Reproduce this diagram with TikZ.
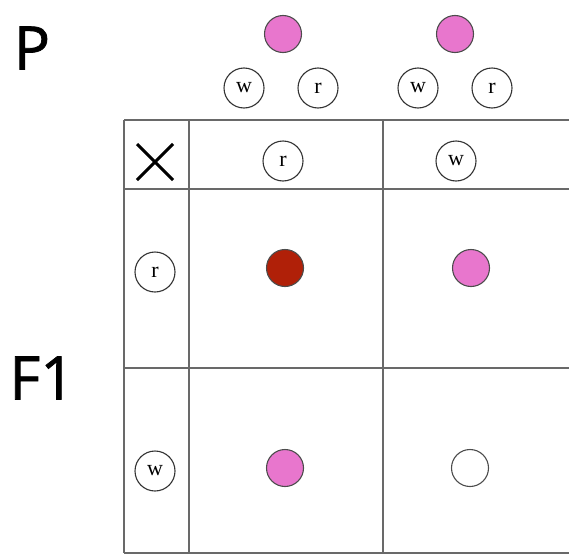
\documentclass[tikz,border=0pt]{standalone}
\usepackage{fontspec}
\setmainfont{Liberation Serif}
\setsansfont{Open Sans}
\newfontfamily\genfont[FakeBold=1.2]{Open Sans}
\usetikzlibrary{positioning}

\definecolor{pinkflower}{RGB}{232,118,205}
\definecolor{redflower}{RGB}{176,32,8}
\definecolor{gridline}{RGB}{105,105,105}

\begin{document}
\begin{tikzpicture}[x=1pt,y=-1pt,
        allele/.style={circle,draw=black!80,line width=1.1pt,minimum size=40pt,inner sep=0pt,font=\fontsize{22}{22}\selectfont},
        flower/.style={circle,draw=black!70,line width=1.1pt,minimum size=37pt,inner sep=0pt},
        gen/.style={font=\genfont\fontsize{60}{60}\selectfont},
        gridline/.style={draw=gridline,line width=2pt}
    ]
        \useasboundingbox (0,0) rectangle (569,554);

        % generations
        \node[gen] (p) at (32,48) {P};
        \node[gen] (f1) at (42,378) {F1};

        % parents
        \node[flower,fill=pinkflower] (parenta) at (283,34) {};
        \node[allele] (parentaw) at (244,88) {w};
        \node[allele] (parentar) at (318,88) {r};
        \node[flower,fill=pinkflower] (parentb) at (455,34) {};
        \node[allele] (parentbw) at (418,88) {w};
        \node[allele] (parentbr) at (492,88) {r};

        % punnett grid
        \foreach \y in {120,189,368,553}
            \draw[gridline] (124,\y) -- (569,\y);
        \foreach \x in {124,189,383}
            \draw[gridline] (\x,120) -- (\x,553);

        \coordinate (crossa) at (137,144);
        \coordinate (crossb) at (173,180);
        \coordinate (crossc) at (137,180);
        \coordinate (crossd) at (173,144);
        \draw[line width=3pt] (crossa) -- (crossb) (crossc) -- (crossd);

        \node[allele] (colr) at (283,161) {r};
        \node[allele] (colw) at (456,161) {w};
        \node[allele] (rowr) at (155,272) {r};
        \node[allele] (roww) at (155,471) {w};

        % offspring
        \node[flower,fill=redflower] (rr) at (285,268) {};
        \node[flower,fill=pinkflower] (rw) at (471,268) {};
        \node[flower,fill=pinkflower] (wr) at (285,468) {};
        \node[flower,fill=white] (ww) at (470,468) {};
    \end{tikzpicture}
\end{document}
